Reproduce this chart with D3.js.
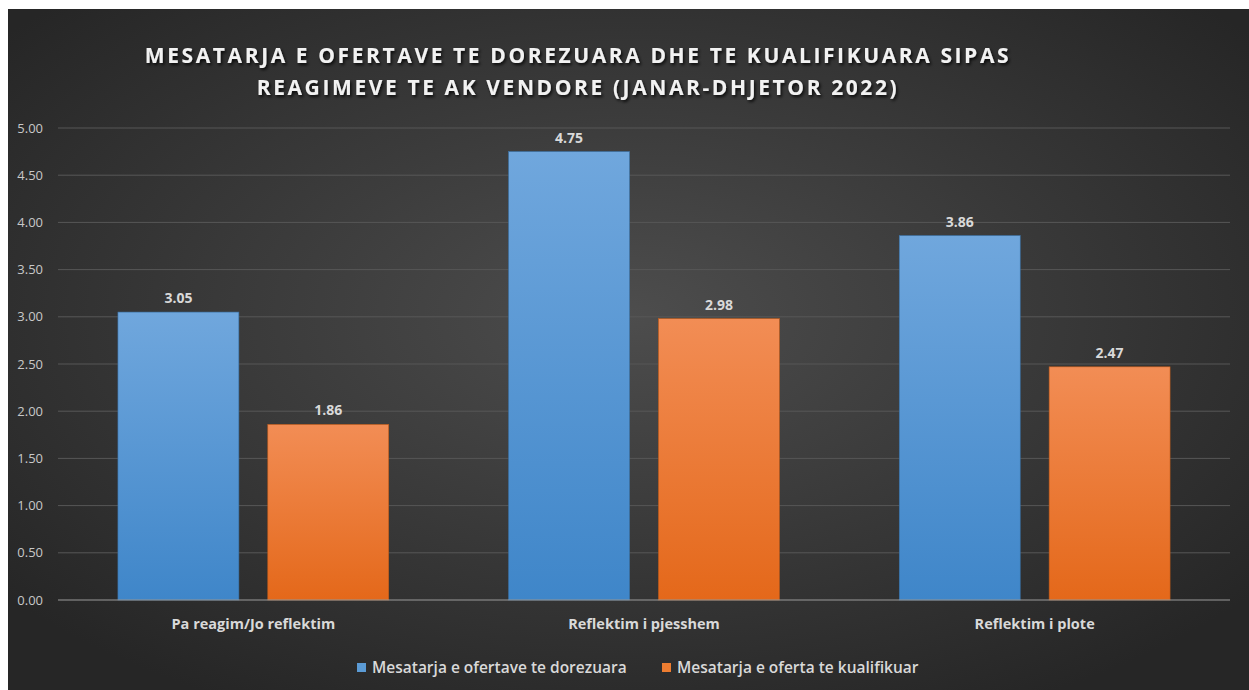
<!DOCTYPE html>
<html>
<head>
<meta charset="utf-8">
<script src="https://cdn.jsdelivr.net/npm/d3@7"></script>
<style>
  html, body { margin: 0; padding: 0; background: #fff; }
  svg { display: block; }
  text { font-family: "Open Sans", "Noto Sans", sans-serif; }
</style>
</head>
<body>
<svg width="1249" height="690"></svg>
<script>
  const categories = ["Pa reagim/Jo reflektim", "Reflektim i pjesshem", "Reflektim i plote"];
  const seriesNames = ["Mesatarja e ofertave te dorezuara", "Mesatarja e oferta te kualifikuar"];
  const dorezuara = [3.05, 4.75, 3.86];
  const kualifikuar = [1.86, 2.98, 2.47];
  const yTicks = [0, 0.5, 1, 1.5, 2, 2.5, 3, 3.5, 4, 4.5, 5];
  const titleLines = ["MESATARJA E OFERTAVE TE DOREZUARA DHE TE KUALIFIKUARA SIPAS",
                      "REAGIMEVE TE AK VENDORE (JANAR-DHJETOR 2022)"];

  const svg = d3.select("svg"),
        width = +svg.attr("width"),
        height = +svg.attr("height"),
        margin = {top: 128, right: 19, bottom: 90, left: 58};

  const rows = categories.map((c, i) => ({category: c, values: [dorezuara[i], kualifikuar[i]]}));

  const defs = svg.append("defs");

  // background gradient, lighter toward the centre
  const bg = defs.append("radialGradient").attr("id", "bg")
    .attr("cx", "50%").attr("cy", "45%").attr("r", "65%");
  bg.append("stop").attr("offset", "0%").attr("stop-color", "#4d4d4d");
  bg.append("stop").attr("offset", "100%").attr("stop-color", "#262626");

  const barGrad = [["#70a7dd", "#3f86c9"], ["#f28d55", "#e4681a"]];
  barGrad.forEach((c, i) => {
    const g = defs.append("linearGradient").attr("id", "bar" + i)
      .attr("x1", 0).attr("y1", 0).attr("x2", 0).attr("y2", 1);
    g.append("stop").attr("offset", "0%").attr("stop-color", c[0]);
    g.append("stop").attr("offset", "100%").attr("stop-color", c[1]);
  });

  const shadow = defs.append("filter").attr("id", "shadow")
    .attr("x", "-5%").attr("y", "-30%").attr("width", "110%").attr("height", "160%");
  shadow.append("feDropShadow").attr("dx", 1.5).attr("dy", 2)
    .attr("stdDeviation", 1.5).attr("flood-color", "#000").attr("flood-opacity", 0.8);

  svg.append("rect")
    .attr("x", 8).attr("y", 9)
    .attr("width", width - 8).attr("height", height - 9)
    .attr("fill", "url(#bg)");

  const x0 = d3.scaleBand()
    .domain(categories)
    .range([margin.left, width - margin.right]);

  const x1 = d3.scaleBand()
    .domain([0, 1])
    .range([0, x0.bandwidth()])
    .paddingInner(0.193)
    .paddingOuter(0.4);

  const y = d3.scaleLinear()
    .domain([0, 5])
    .range([height - margin.bottom, margin.top]);

  // gridlines
  svg.append("g")
    .selectAll("line")
    .data(yTicks.filter(d => d > 0))
    .enter().append("line")
    .attr("x1", margin.left).attr("x2", width - margin.right)
    .attr("y1", d => y(d)).attr("y2", d => y(d))
    .attr("stroke", "#575757").attr("stroke-width", 1);

  // y axis labels
  const yAxis = svg.append("g")
    .attr("transform", `translate(${margin.left},0)`)
    .call(d3.axisLeft(y).tickValues(yTicks).tickFormat(d3.format(".2f")).tickSize(0).tickPadding(15));
  yAxis.select(".domain").remove();
  yAxis.selectAll("text")
    .attr("fill", "#c8c8c8")
    .style("font-size", "13px")
    .style("font-family", "'Open Sans', sans-serif");

  // bars
  const groups = svg.append("g")
    .selectAll("g")
    .data(rows)
    .enter().append("g")
    .attr("transform", d => `translate(${x0(d.category)},0)`);

  groups.selectAll("rect")
    .data(d => d.values.map((v, i) => ({i, v})))
    .enter().append("rect")
    .attr("x", d => x1(d.i))
    .attr("y", d => y(d.v))
    .attr("width", x1.bandwidth())
    .attr("height", d => y(0) - y(d.v))
    .attr("fill", d => `url(#bar${d.i})`)
    .attr("stroke", d => d.i === 0 ? "#3a73a8" : "#c05a18")
    .attr("stroke-width", 0.6);

  groups.selectAll("text")
    .data(d => d.values.map((v, i) => ({i, v})))
    .enter().append("text")
    .attr("x", d => x1(d.i) + x1.bandwidth() / 2)
    .attr("y", d => y(d.v) - 9)
    .attr("text-anchor", "middle")
    .attr("fill", "#d9d9d9")
    .style("font-size", "14px")
    .style("font-weight", "bold")
    .text(d => d.v.toFixed(2));

  // x axis
  svg.append("line")
    .attr("x1", margin.left).attr("x2", width - margin.right)
    .attr("y1", y(0)).attr("y2", y(0))
    .attr("stroke", "#9a9a9a").attr("stroke-width", 1.2);

  svg.append("g")
    .selectAll("text")
    .data(categories)
    .enter().append("text")
    .attr("x", d => x0(d) + x0.bandwidth() / 2)
    .attr("y", y(0) + 29)
    .attr("text-anchor", "middle")
    .attr("fill", "#d9d9d9")
    .style("font-size", "14.5px")
    .style("font-weight", "bold")
    .text(d => d);

  // title
  svg.append("g")
    .selectAll("text")
    .data(titleLines)
    .enter().append("text")
    .attr("x", 578)
    .attr("y", (d, i) => 63 + i * 32)
    .attr("text-anchor", "middle")
    .attr("fill", "#f2f2f2")
    .attr("filter", "url(#shadow)")
    .style("font-size", "21px")
    .style("font-weight", "bold")
    .style("letter-spacing", "2.6px")
    .text(d => d);

  // legend
  const legendX = [357, 662];
  const legend = svg.append("g")
    .selectAll("g")
    .data(seriesNames)
    .enter().append("g")
    .attr("transform", (d, i) => `translate(${legendX[i]},663)`);

  legend.append("rect")
    .attr("width", 9).attr("height", 9)
    .attr("fill", (d, i) => i === 0 ? "#5b9bd5" : "#ed7d31");

  legend.append("text")
    .attr("x", 15).attr("y", 10)
    .attr("fill", "#d9d9d9")
    .style("font-size", "15.5px")
    .style("font-weight", 600)
    .text(d => d);
</script>
</body>
</html>
